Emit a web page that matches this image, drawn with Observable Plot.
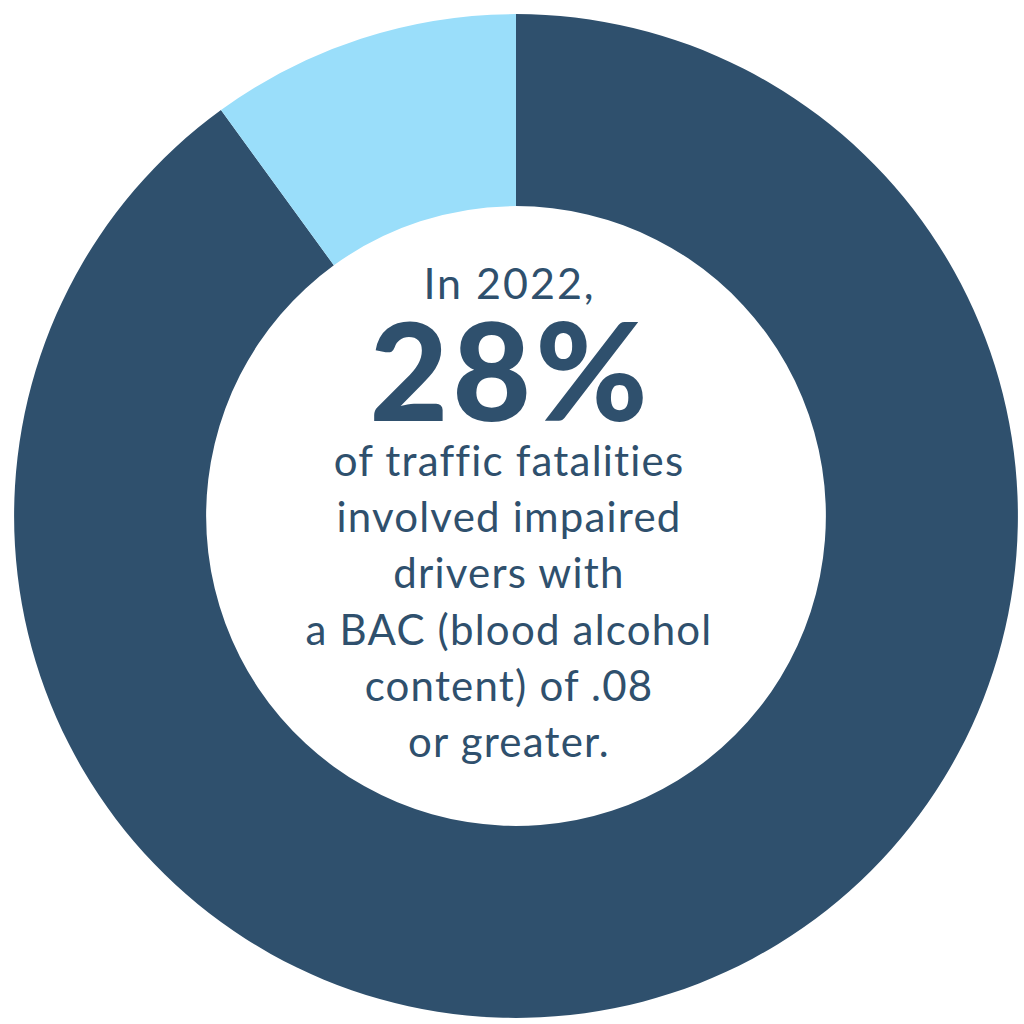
<!DOCTYPE html>
<html>
<head>
<meta charset="utf-8">
<script src="https://cdn.jsdelivr.net/npm/d3@7"></script>
<script src="https://cdn.jsdelivr.net/npm/@observablehq/plot@0.6"></script>
<style>
  html, body { margin: 0; padding: 0; background: #ffffff; }
  #chart { width: 1024px; height: 1024px; }
</style>
</head>
<body>
<div id="chart"></div>
<script>
// Data
const categories = ["Other fatalities", "Impaired-driver fatalities"];
const shares = [90, 10];
const sliceColors = ["#2F506D", "#9ADEFA"];

const headline = "In 2022,";
const bigStat = "28%";
const bodyLines = [
  "of traffic fatalities",
  "involved impaired",
  "drivers with",
  "a BAC (blood alcohol",
  "content) of .08",
  "or greater."
];

const data = categories.map((c, i) => ({category: c, value: shares[i]}));
const color = Plot.scale({color: {domain: categories, range: sliceColors}});

const textColor = "#2F506D";
const font = "Lato, 'Open Sans', sans-serif";

function donut(index, scales, values, dimensions) {
  const {width, height, marginLeft, marginRight, marginTop, marginBottom} = dimensions;
  let cx, cy, unit;
  if (scales.x && scales.y) {
    cx = scales.x(0); cy = scales.y(0);
    unit = Math.abs(scales.x(1) - scales.x(0));
  } else {
    cx = marginLeft + (width - marginLeft - marginRight) / 2;
    cy = marginTop + (height - marginTop - marginBottom) / 2;
    unit = (width - marginLeft - marginRight) / 2;
  }
  const outer = unit * 0.988;
  const inner = unit * 0.61;
  const pie = d3.pie().sort(null).value(d => d.value)(data);
  const arc = d3.arc().innerRadius(inner).outerRadius(outer);
  const g = d3.create("svg:g").attr("transform", `translate(${cx},${cy})`);
  g.selectAll("path")
    .data(pie)
    .join("path")
    .attr("d", arc)
    .attr("fill", d => color.apply(d.data.category));
  return g.node();
}

const plot = Plot.plot({
  width: 1024,
  height: 1024,
  marginLeft: 8,
  marginTop: 8,
  marginRight: 0,
  marginBottom: 0,
  x: {domain: [-1, 1], axis: null},
  y: {domain: [-1, 1], axis: null},
  style: {background: "#ffffff", fontFamily: font},
  marks: [
    donut,
    Plot.text([headline], {
      text: d => d, frameAnchor: "middle", lineAnchor: "bottom",
      dy: -218, dx: -7, fontSize: 43, fill: textColor, fontFamily: font
    }),
    Plot.text([bigStat], {
      text: d => d, frameAnchor: "middle", lineAnchor: "bottom",
      dy: -96, dx: -6, fontSize: 136, fontWeight: 900, fill: textColor, fontFamily: font
    }),
    Plot.text([bodyLines.join("\n")], {
      text: d => d, frameAnchor: "middle", lineAnchor: "top",
      dy: -80, dx: -7.5, fontSize: 42, lineHeight: 1.335, fill: textColor, fontFamily: font
    })
  ]
});

// letter spacing to match the wider reference typeface
const texts = plot.querySelectorAll("g[aria-label='text']");
if (texts.length === 3) {
  texts[0].setAttribute("letter-spacing", "2");
  texts[1].setAttribute("letter-spacing", "4");
  texts[2].setAttribute("letter-spacing", "1.2");
}

document.getElementById("chart").appendChild(plot);
</script>
</body>
</html>
